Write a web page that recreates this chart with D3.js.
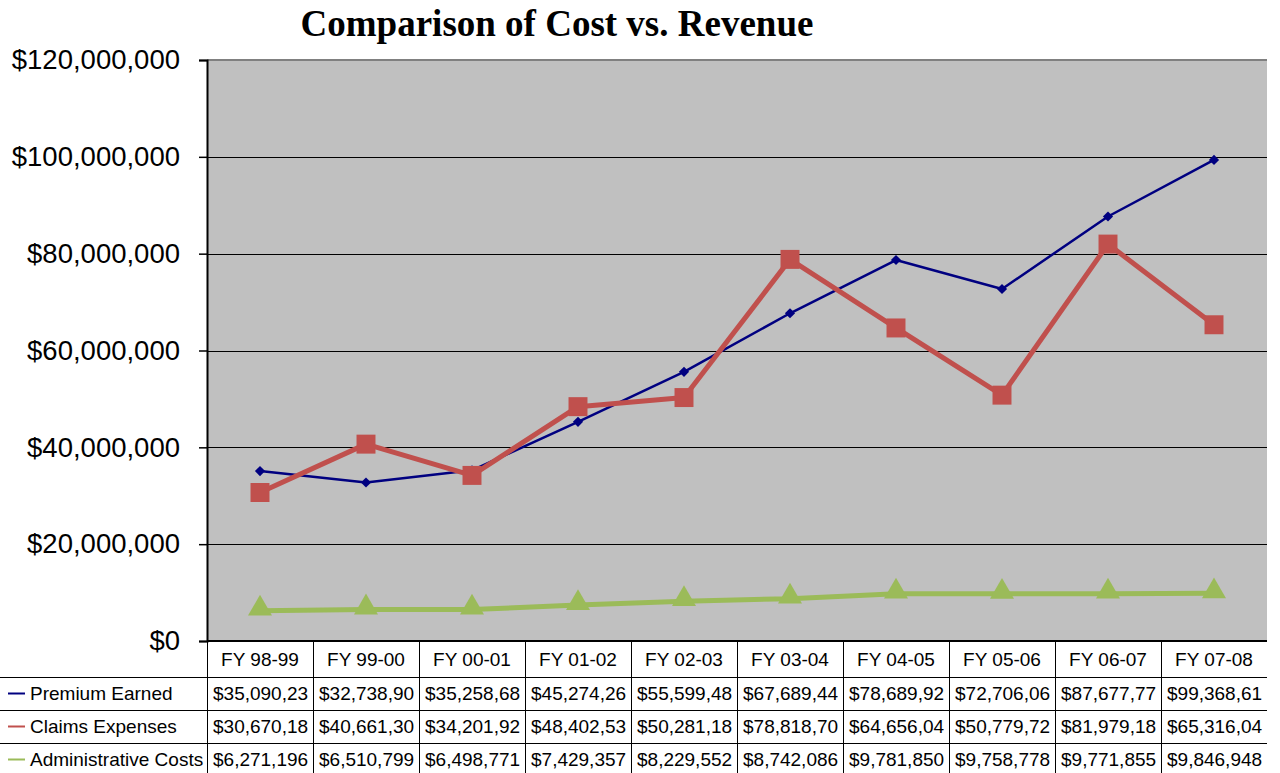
<!DOCTYPE html>
<html>
<head>
<meta charset="utf-8">
<script src="https://cdn.jsdelivr.net/npm/d3@7"></script>
<style>
  body { margin: 0; background: #fff; }
  svg { display: block; }
</style>
</head>
<body>
<div id="chart"></div>
<script>
const years = ["FY 98-99", "FY 99-00", "FY 00-01", "FY 01-02", "FY 02-03",
               "FY 03-04", "FY 04-05", "FY 05-06", "FY 06-07", "FY 07-08"];
const premiumEarned = [35090230, 32738900, 35258680, 45274260, 55599480,
                       67689440, 78689920, 72706060, 87677770, 99368610];
const claimsExpenses = [30670180, 40661300, 34201920, 48402530, 50281180,
                        78818700, 64656040, 50779720, 81979180, 65316040];
const adminCosts = [6271196, 6510799, 6498771, 7429357, 8229552,
                    8742086, 9781850, 9758778, 9771855, 9846948];
const yTicks = [0, 20000000, 40000000, 60000000, 80000000, 100000000, 120000000];

const series = [
  { name: "Premium Earned", values: premiumEarned, color: "#000080", width: 2.5, marker: "diamond" },
  { name: "Claims Expenses", values: claimsExpenses, color: "#C0504D", width: 5, marker: "square" },
  { name: "Administrative Costs", values: adminCosts, color: "#9BBB59", width: 5, marker: "triangle" }
];

const W = 1280, H = 773;
const m = { left: 207, right: 13, top: 60, bottom: 132 };
const plotW = W - m.left - m.right;
const plotH = H - m.top - m.bottom;

const svg = d3.select("#chart").append("svg")
    .attr("width", W)
    .attr("height", H)
    .style("font-family", "'Liberation Sans', Arial, sans-serif");

const x = d3.scaleBand().domain(years).range([m.left, m.left + plotW]);
const y = d3.scaleLinear().domain([0, 120000000]).range([m.top + plotH, m.top]);
const money = d3.format("$,.0f");

// title
svg.append("text")
    .attr("x", 557).attr("y", 36)
    .attr("text-anchor", "middle")
    .style("font-family", "'Liberation Serif', 'Times New Roman', serif")
    .style("font-weight", "bold")
    .style("font-size", "37px")
    .text("Comparison of Cost vs. Revenue");

// plot background
svg.append("rect")
    .attr("x", m.left).attr("y", m.top)
    .attr("width", plotW).attr("height", plotH)
    .attr("fill", "#C0C0C0");

svg.append("line")
    .attr("x1", m.left).attr("x2", m.left + plotW)
    .attr("y1", m.top).attr("y2", m.top)
    .attr("stroke", "#808080").attr("stroke-width", 2);

// gridlines
svg.append("g")
  .selectAll("line")
  .data(yTicks.slice(1, -1))
  .join("line")
    .attr("x1", m.left).attr("x2", m.left + plotW)
    .attr("y1", d => Math.round(y(d)) + 0.5).attr("y2", d => Math.round(y(d)) + 0.5)
    .attr("stroke", "#000").attr("stroke-width", 1);

// y axis
const yAxis = svg.append("g")
    .attr("transform", `translate(${m.left},0)`)
    .call(d3.axisLeft(y).tickValues(yTicks).tickFormat(money).tickSize(8).tickPadding(19));
yAxis.select(".domain").attr("stroke", "#000").attr("stroke-width", 2);
yAxis.selectAll(".tick line").attr("stroke", "#000").attr("stroke-width", 1.5);
yAxis.selectAll(".tick text")
    .attr("fill", "#000")
    .style("font-size", "27.5px")
    .style("font-family", "'Liberation Sans', Arial, sans-serif");

// lines and markers
const line = d3.line()
    .x((d, i) => x(years[i]) + x.bandwidth() / 2)
    .y(d => y(d));

const symbols = {
  diamond: d3.symbol().type(d3.symbolSquare).size(52),
  square: d3.symbol().type(d3.symbolSquare).size(360),
  triangle: d3.symbol().type(d3.symbolTriangle).size(250)
};

series.forEach(s => {
  svg.append("path")
      .datum(s.values)
      .attr("d", line)
      .attr("fill", "none")
      .attr("stroke", s.color)
      .attr("stroke-width", s.width)
      .attr("stroke-linejoin", "round");
  svg.append("g")
    .selectAll("path")
    .data(s.values)
    .join("path")
      .attr("transform", (d, i) => {
        const cx = x(years[i]) + x.bandwidth() / 2;
        if (s.marker === "diamond") return `translate(${cx},${y(d)}) rotate(45)`;
        if (s.marker === "triangle") return `translate(${cx},${y(d) - 2})`;
        return `translate(${cx},${y(d)})`;
      })
      .attr("d", symbols[s.marker]())
      .attr("fill", s.color);
});

// data table
const tableTop = m.top + plotH;
const headH = 36, rowH = 33;
const tbl = svg.append("g").style("font-size", "19px");

// header cells
tbl.selectAll(".head")
  .data(years)
  .join("text")
    .attr("class", "head")
    .attr("x", d => x(d) + x.bandwidth() / 2)
    .attr("y", tableTop + 25)
    .attr("text-anchor", "middle")
    .text(d => d);

series.forEach((s, r) => {
  const ry = tableTop + headH + r * rowH;
  tbl.append("line")
      .attr("x1", 8).attr("x2", 25)
      .attr("y1", ry + rowH / 2).attr("y2", ry + rowH / 2)
      .attr("stroke", s.color).attr("stroke-width", 2);
  tbl.append("text")
      .attr("x", 30).attr("y", ry + 23)
      .text(s.name);
  tbl.append("g")
    .selectAll("text")
    .data(s.values)
    .join("text")
      .attr("x", (d, i) => x(years[i]) + 6)
      .attr("y", ry + 23)
      .text(d => money(d).slice(0, 10));
});

// table grid
const hLines = [0, 1, 2].map(r => tableTop + headH + r * rowH);
tbl.selectAll(".hl")
  .data(hLines)
  .join("line")
    .attr("x1", 0).attr("x2", m.left + plotW)
    .attr("y1", d => d + 0.5).attr("y2", d => d + 0.5)
    .attr("stroke", "#000");

tbl.selectAll(".vl")
  .data(years)
  .join("line")
    .attr("x1", d => Math.round(x(d)) + 0.5).attr("x2", d => Math.round(x(d)) + 0.5)
    .attr("y1", tableTop).attr("y2", H)
    .attr("stroke", "#000");

// x axis line
svg.append("line")
    .attr("x1", m.left).attr("x2", m.left + plotW)
    .attr("y1", tableTop).attr("y2", tableTop)
    .attr("stroke", "#000").attr("stroke-width", 2);
</script>
</body>
</html>
